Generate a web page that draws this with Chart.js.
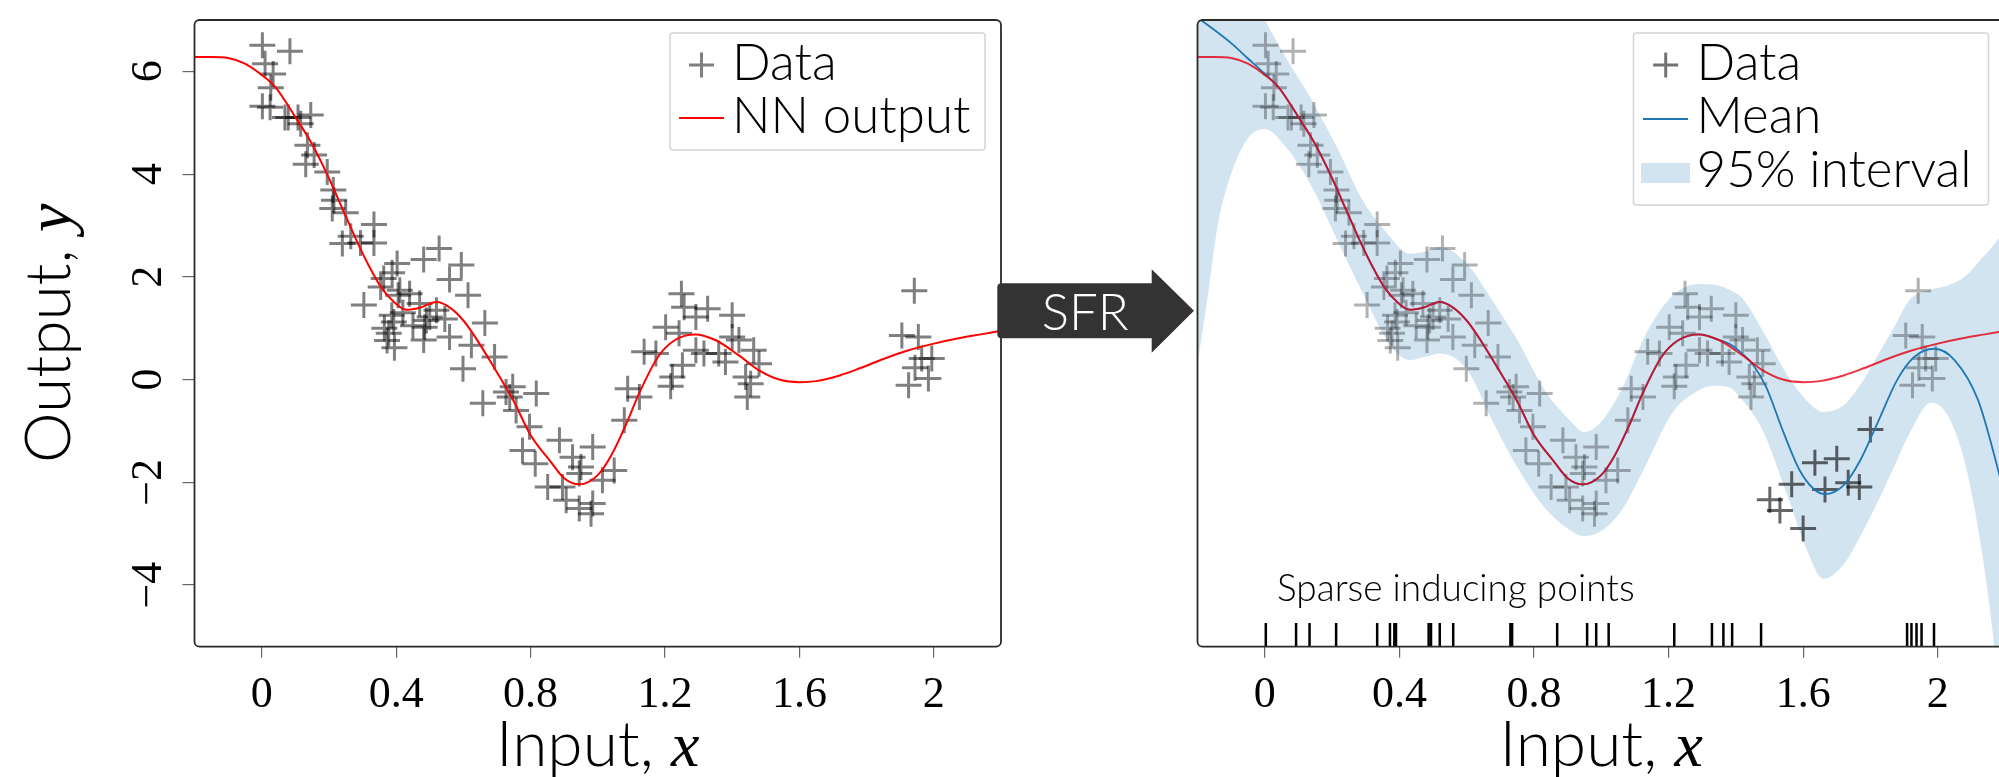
<!DOCTYPE html>
<html>
<head>
<meta charset="utf-8">
<script src="https://cdn.jsdelivr.net/npm/chart.js@4.4.1/dist/chart.umd.min.js"></script>
<style>
  html, body { margin: 0; padding: 0; background: #fff; }
  body { width: 1999px; height: 777px; overflow: hidden; position: relative; }
  canvas { position: absolute; top: 0; }
  #nnChart { left: 0; }
  #sfrChart { left: 990px; }
</style>
</head>
<body>
<canvas id="nnChart" width="1010" height="777"></canvas>
<canvas id="sfrChart" width="1020" height="777"></canvas>
<script>
// axis ticks
var xTicks = [0, 0.4, 0.8, 1.2, 1.6, 2];
var xTickLabels = ["0", "0.4", "0.8", "1.2", "1.6", "2"];
var yTicks = [-4, -2, 0, 2, 4, 6];
var yTickLabels = ["\u22124", "\u22122", "0", "2", "4", "6"];

// training data (both panels)
var dataX = [
  0.002, 0.084, 0.010, 0.034, 0.027, 0.002, 0.025, 0.069, 0.079, 0.108, 0.146, 0.116, 0.136,
  0.131, 0.156, 0.195, 0.213, 0.215, 0.210, 0.250, 0.334, 0.265, 0.240, 0.294, 0.334, 0.304,
  0.482, 0.403, 0.388, 0.363, 0.354, 0.378, 0.393, 0.373, 0.482, 0.490, 0.528, 0.594, 0.559,
  0.614, 0.664, 0.559, 0.624, 0.599, 0.693, 0.406, 0.440, 0.470, 0.500, 0.485, 0.411, 0.387,
  0.420, 0.450, 0.365, 0.395, 0.520, 0.545,
  0.747, 0.817, 0.658, 0.757, 0.727, 0.797, 0.776, 0.814, 0.851, 0.738, 0.886, 0.985, 0.950,
  1.049, 0.895, 0.945, 1.014, 0.906, 0.985, 0.945, 0.980, 0.925, 1.079,
  1.124, 1.089, 1.138, 1.173, 1.217, 1.222, 1.202, 1.252, 1.257, 1.292, 1.327, 1.292, 1.316,
  1.242, 1.400, 1.400, 1.360, 1.420, 1.380, 1.464, 1.480, 1.440, 1.455, 1.445, 1.249,
  1.942, 1.905, 1.954, 1.964, 1.994, 1.944, 1.984, 1.925
];
var dataY = [
  6.51, 6.39, 6.15, 5.95, 5.68, 5.32, 5.30, 5.10, 5.10, 5.10, 5.15, 4.98, 4.56,
  4.19, 4.37, 4.04, 3.69, 3.49, 3.33, 3.25, 3.02, 2.79, 2.65, 2.66, 2.66, 1.45,
  2.34, 2.26, 2.08, 1.97, 1.80, 0.90, 1.12, 0.76, 0.77, 1.15, 2.55, 2.23, 1.95,
  1.64, 1.10, 0.83, 0.67, 0.21, 0.44, 1.64, 1.67, 1.48, 1.22, 1.02, 1.74, 1.25,
  1.30, 1.05, 1.00, 0.62, 1.35, 1.18,
  -0.14, -0.27, -0.46, -0.60, -0.24, -0.92, -1.38, -1.64, -2.09, -0.34, -1.18, -1.31, -1.70,
  -1.77, -2.09, -1.83, -1.96, -2.35, -2.41, -2.51, -2.61, -1.51, -0.79,
  -0.34, -0.18, 0.54, 0.51, -0.13, 0.05, 1.02, 0.28, 1.41, 1.22, 1.38, 0.57, 0.51,
  0.90, 1.25, 0.83, 0.51, 0.77, 0.34, 0.57, 0.31, 0.05, -0.08, -0.34, 1.67,
  1.73, 0.86, 0.83, 0.41, 0.41, 0.23, 0.02, -0.11
];

// new data seen only by SFR (right panel)
var newX = [1.800, 1.635, 1.700, 1.566, 1.665, 1.734, 1.767, 1.501, 1.531, 1.600];
var newY = [-0.97, -1.62, -1.54, -2.04, -2.14, -2.01, -2.09, -2.34, -2.55, -2.90];

// NN output curve
var nnX = [-0.2, -0.15, -0.1, -0.05, 0.0, 0.04, 0.1, 0.15, 0.2, 0.24, 0.28, 0.32, 0.355, 0.395,
  0.43, 0.47, 0.52, 0.56, 0.6, 0.63, 0.69, 0.75, 0.8, 0.86, 0.9, 0.945, 1.0, 1.04, 1.085,
  1.125, 1.18, 1.23, 1.29, 1.35, 1.42, 1.48, 1.54, 1.6, 1.65, 1.72, 1.78, 1.85, 1.92, 2.0,
  2.07, 2.14, 2.2];
var nnY = [6.28, 6.28, 6.26, 6.15, 5.93, 5.70, 5.11, 4.58, 3.92, 3.33, 2.74, 2.20, 1.80, 1.50,
  1.36, 1.40, 1.51, 1.40, 1.15, 0.88, 0.25, -0.42, -1.08, -1.60, -1.92, -2.04, -1.86, -1.48,
  -0.86, -0.24, 0.45, 0.77, 0.88, 0.77, 0.47, 0.18, 0.00, -0.05, -0.03, 0.08, 0.22, 0.40,
  0.56, 0.70, 0.80, 0.88, 0.95];

// SFR posterior mean
var meanX = [-0.2, -0.1, -0.05, 0.0, 0.04, 0.1, 0.15, 0.2, 0.24, 0.28, 0.32, 0.355, 0.395,
  0.43, 0.47, 0.52, 0.56, 0.6, 0.63, 0.69, 0.75, 0.8, 0.86, 0.9, 0.945, 1.0, 1.04, 1.085,
  1.125, 1.18, 1.23, 1.29, 1.35, 1.39, 1.42, 1.45, 1.49, 1.54, 1.59, 1.63, 1.665, 1.72, 1.77,
  1.82, 1.88, 1.93, 1.99, 2.05, 2.12, 2.18, 2.2];
var meanY = [7.05, 6.55, 6.25, 5.95, 5.70, 5.11, 4.58, 3.92, 3.33, 2.74, 2.20, 1.80, 1.50,
  1.36, 1.40, 1.51, 1.40, 1.15, 0.88, 0.25, -0.42, -1.08, -1.60, -1.92, -2.04, -1.86, -1.48,
  -0.86, -0.24, 0.45, 0.77, 0.88, 0.77, 0.66, 0.50, 0.30, -0.14, -1.00, -1.77, -2.12, -2.23,
  -2.06, -1.57, -0.86, 0.00, 0.44, 0.60, 0.38, -0.40, -1.77, -2.30];

// 95% interval
var bandX = [-0.2, -0.17, -0.14, -0.1, -0.05, 0.0, 0.06, 0.14, 0.22, 0.29, 0.37, 0.43, 0.48,
  0.52, 0.6, 0.68, 0.75, 0.83, 0.9, 0.95, 1.0, 1.06, 1.13, 1.21, 1.29, 1.34, 1.38, 1.42, 1.48,
  1.55, 1.61, 1.66, 1.72, 1.77, 1.82, 1.87, 1.92, 1.98, 2.03, 2.08, 2.13, 2.17, 2.2];
var bandUpper = [9.5, 9.2, 8.8, 8.3, 7.6, 7.0, 6.3, 5.44, 4.45, 3.5, 2.8, 2.45, 2.5,
  2.58, 2.26, 1.5, 0.78, -0.19, -0.75, -1.02, -0.82, -0.2, 0.85, 1.62, 1.86, 1.84, 1.75, 1.58,
  0.95, 0.12, -0.40, -0.63, -0.50, -0.10, 0.45, 1.02, 1.58, 1.75, 1.83, 2.0, 2.35, 2.65, 2.9];
var bandLower = [0.3, 1.6, 3.0, 4.0, 4.7, 4.88, 4.55, 3.75, 2.65, 1.7, 0.7, 0.38, 0.45,
  0.51, 0.2, -0.85, -1.7, -2.48, -2.9, -3.05, -2.95, -2.55, -1.7, -0.66, -0.21, -0.12, -0.15,
  -0.40, -0.99, -2.2, -3.3, -3.88, -3.6, -3.05, -2.4, -1.7, -1.0, -0.45, -0.7, -1.6, -3.3,
  -5.3, -7.5];

// sparse inducing points
var inducingX = [0.003, 0.093, 0.133, 0.212, 0.334, 0.372, 0.385, 0.390, 0.487, 0.494, 0.520,
  0.560, 0.730, 0.735, 0.869, 0.958, 0.985, 1.022, 1.217, 1.329, 1.363, 1.389, 1.475, 1.909,
  1.922, 1.937, 1.952, 1.989];

function pts(xs, ys) {
  return xs.map(function (x, i) { return { x: x, y: ys[i] }; });
}

var LIGHT = '300 %spx "Lato Light", Lato, sans-serif';
function lato(size) { return LIGHT.replace("%s", size); }
var SERIF = '"Liberation Serif", "DejaVu Serif", serif';
var BAND = "rgba(31,119,180,0.2)";
var BLUE = "#1f77b4";

function drawPlus(ctx, x, y, r, color) {
  ctx.strokeStyle = color;
  ctx.lineWidth = 3;
  ctx.beginPath();
  ctx.moveTo(x - r, y); ctx.lineTo(x + r, y);
  ctx.moveTo(x, y - r); ctx.lineTo(x, y + r);
  ctx.stroke();
}

function drawFrame(chart) {
  var ctx = chart.ctx, a = chart.chartArea;
  ctx.strokeStyle = "#2a2a2a";
  ctx.lineWidth = 1.8;
  ctx.beginPath();
  ctx.roundRect(a.left, a.top, a.right - a.left, a.bottom - a.top, 5);
  ctx.stroke();
}

function drawXTitle(chart) {
  var ctx = chart.ctx, a = chart.chartArea;
  var f1 = lato(64), f2 = "italic 64px " + SERIF;
  ctx.font = f1; var w1 = ctx.measureText("Input, ").width;
  ctx.font = f2; var w2 = ctx.measureText("x").width;
  var x0 = (a.left + a.right) / 2 - (w1 + w2) / 2;
  ctx.fillStyle = "#000";
  ctx.textBaseline = "alphabetic";
  ctx.textAlign = "left";
  ctx.font = f1; ctx.fillText("Input, ", x0, 766);
  ctx.font = f2; ctx.fillText("x", x0 + w1, 766);
}

function drawLegendBox(ctx, x, y, w, h) {
  ctx.fillStyle = "#fff";
  ctx.strokeStyle = "#d4d4d4";
  ctx.lineWidth = 1.5;
  ctx.beginPath();
  ctx.roundRect(x, y, w, h, 3);
  ctx.fill();
  ctx.stroke();
}

var nnDecor = {
  id: "nnDecor",
  afterDatasetsDraw: function (chart) {
    var ctx = chart.ctx, a = chart.chartArea, ys = chart.scales.y;
    ctx.save();
    drawFrame(chart);

    // rotated y tick labels
    ctx.fillStyle = "#000";
    ctx.font = "44px " + SERIF;
    ctx.textAlign = "center";
    ctx.textBaseline = "alphabetic";
    yTicks.forEach(function (v, i) {
      ctx.save();
      ctx.translate(161, ys.getPixelForValue(v));
      ctx.rotate(-Math.PI / 2);
      ctx.fillText(yTickLabels[i], 0, 0);
      ctx.restore();
    });

    // y title
    var f1 = lato(64), f2 = "italic 64px " + SERIF;
    ctx.font = f1; var w1 = ctx.measureText("Output, ").width;
    ctx.font = f2; var w2 = ctx.measureText("y").width;
    ctx.save();
    ctx.translate(70, (a.top + a.bottom) / 2);
    ctx.rotate(-Math.PI / 2);
    ctx.textAlign = "left";
    ctx.font = f1; ctx.fillText("Output, ", -(w1 + w2) / 2, 0);
    ctx.font = f2; ctx.fillText("y", -(w1 + w2) / 2 + w1, 0);
    ctx.restore();

    drawXTitle(chart);

    // legend
    drawLegendBox(ctx, 670, 33, 315, 117);
    drawPlus(ctx, 701.5, 65, 12.5, "rgba(0,0,0,0.5)");
    ctx.strokeStyle = "red"; ctx.lineWidth = 2;
    ctx.beginPath(); ctx.moveTo(679, 118); ctx.lineTo(724, 118); ctx.stroke();
    ctx.fillStyle = "#000";
    ctx.font = lato(51);
    ctx.textAlign = "left";
    ctx.fillText("Data", 732, 80);
    ctx.fillText("NN output", 732, 133);
    ctx.restore();
  }
};

var sfrDecor = {
  id: "sfrDecor",
  afterDatasetsDraw: function (chart) {
    var ctx = chart.ctx;
    ctx.save();
    drawFrame(chart);
    drawXTitle(chart);

    ctx.fillStyle = "#000";
    ctx.textAlign = "left";
    ctx.textBaseline = "alphabetic";
    ctx.font = lato(37);
    ctx.fillText("Sparse inducing points", 287, 601);

    // legend
    drawLegendBox(ctx, 643.5, 33, 355, 172);
    drawPlus(ctx, 675.7, 65, 12.5, "rgba(0,0,0,0.55)");
    ctx.strokeStyle = BLUE; ctx.lineWidth = 2;
    ctx.beginPath(); ctx.moveTo(653, 119); ctx.lineTo(698, 119); ctx.stroke();
    ctx.fillStyle = BAND;
    ctx.fillRect(651, 163, 49, 20);
    ctx.fillStyle = "#000";
    ctx.font = lato(51);
    ctx.fillText("Data", 706.6, 80);
    ctx.fillText("Mean", 706.6, 133);
    ctx.fillText("95% interval", 706.6, 187);

    // SFR arrow
    ctx.fillStyle = "#333";
    ctx.beginPath();
    ctx.roundRect(7.3, 283.3, 158, 55, 4);
    ctx.fill();
    ctx.beginPath();
    ctx.moveTo(161.7, 269.3);
    ctx.lineTo(204, 310.8);
    ctx.lineTo(161.7, 352.7);
    ctx.closePath();
    ctx.fill();
    ctx.fillStyle = "#fff";
    ctx.font = lato(51);
    ctx.fillText("SFR", 51.7, 330);
    ctx.restore();
  }
};

function xScale() {
  return {
    type: "linear",
    min: -0.2,
    max: 2.2,
    afterFit: function (s) { s.height = 130.3; },
    afterBuildTicks: function (s) {
      s.ticks = xTicks.map(function (v) { return { value: v }; });
    },
    grid: { display: true, drawOnChartArea: false, drawTicks: true, tickLength: 11, color: "#666", lineWidth: 1.2 },
    border: { display: false },
    ticks: {
      padding: 11,
      color: "#000",
      maxRotation: 0,
      autoSkip: false,
      font: { family: SERIF, size: 44 },
      callback: function (v) { return xTickLabels[xTicks.indexOf(v)]; }
    }
  };
}

var common = {
  responsive: false,
  animation: false,
  events: [],
  plugins: { legend: { display: false }, tooltip: { enabled: false } }
};

new Chart(document.getElementById("nnChart").getContext("2d"), {
  type: "scatter",
  data: {
    datasets: [
      {
        type: "line",
        label: "NN output",
        data: pts(nnX, nnY),
        borderColor: "red",
        borderWidth: 2,
        pointRadius: 0,
        fill: false,
        cubicInterpolationMode: "monotone",
        order: 0
      },
      {
        label: "Data",
        data: pts(dataX, dataY),
        pointStyle: "cross",
        pointRadius: 13,
        borderWidth: 3,
        borderColor: "rgba(0,0,0,0.5)",
        order: 1
      }
    ]
  },
  options: Object.assign({}, common, {
    // autoPadding off: the big "+" markers would otherwise widen the right margin
    layout: { autoPadding: false, padding: { top: 20, right: 9, left: 0, bottom: 0 } },
    scales: {
      x: xScale(),
      y: {
        min: -5.2,
        max: 7,
        afterFit: function (s) { s.width = 194.5; },
        afterBuildTicks: function (s) {
          s.ticks = yTicks.map(function (v) { return { value: v }; });
        },
        grid: { display: true, drawOnChartArea: false, drawTicks: true, tickLength: 12, color: "#666", lineWidth: 1.2 },
        border: { display: false },
        ticks: { display: false }
      }
    }
  }),
  plugins: [nnDecor]
});

new Chart(document.getElementById("sfrChart").getContext("2d"), {
  type: "scatter",
  data: {
    datasets: [
      {
        type: "line",
        label: "NN output",
        data: pts(nnX, nnY),
        borderColor: "rgba(230,0,20,0.8)",
        borderWidth: 2,
        pointRadius: 0,
        fill: false,
        cubicInterpolationMode: "monotone",
        order: 0
      },
      {
        type: "line",
        label: "Mean",
        data: pts(meanX, meanY),
        borderColor: BLUE,
        borderWidth: 1.8,
        pointRadius: 0,
        fill: false,
        cubicInterpolationMode: "monotone",
        order: 1
      },
      {
        label: "Sparse inducing points",
        data: inducingX.map(function (x) { return { x: x, y: -4.97 }; }),
        pointStyle: "line",
        rotation: 90,
        pointRadius: 12,
        borderWidth: 2.5,
        borderColor: "#000",
        order: 2
      },
      {
        label: "New data",
        data: pts(newX, newY),
        pointStyle: "cross",
        pointRadius: 13,
        borderWidth: 3,
        borderColor: "rgba(0,0,0,0.6)",
        order: 3
      },
      {
        label: "Data",
        data: pts(dataX, dataY),
        pointStyle: "cross",
        pointRadius: 13,
        borderWidth: 3,
        borderColor: "rgba(0,0,0,0.3)",
        order: 4
      },
      {
        type: "line",
        label: "upper",
        data: pts(bandX, bandUpper),
        borderColor: "transparent",
        pointRadius: 0,
        fill: false,
        cubicInterpolationMode: "monotone",
        order: 5
      },
      {
        type: "line",
        label: "95% interval",
        data: pts(bandX, bandLower),
        borderColor: "transparent",
        backgroundColor: BAND,
        pointRadius: 0,
        fill: "-1",
        cubicInterpolationMode: "monotone",
        order: 6
      }
    ]
  },
  options: Object.assign({}, common, {
    layout: { autoPadding: false, padding: { top: 20, right: 5, left: 0, bottom: 0 } },
    scales: {
      x: xScale(),
      y: {
        min: -5.2,
        max: 7,
        afterFit: function (s) { s.width = 207.5; },
        grid: { display: false },
        border: { display: false },
        ticks: { display: false }
      }
    }
  }),
  plugins: [sfrDecor]
});
</script>
</body>
</html>
